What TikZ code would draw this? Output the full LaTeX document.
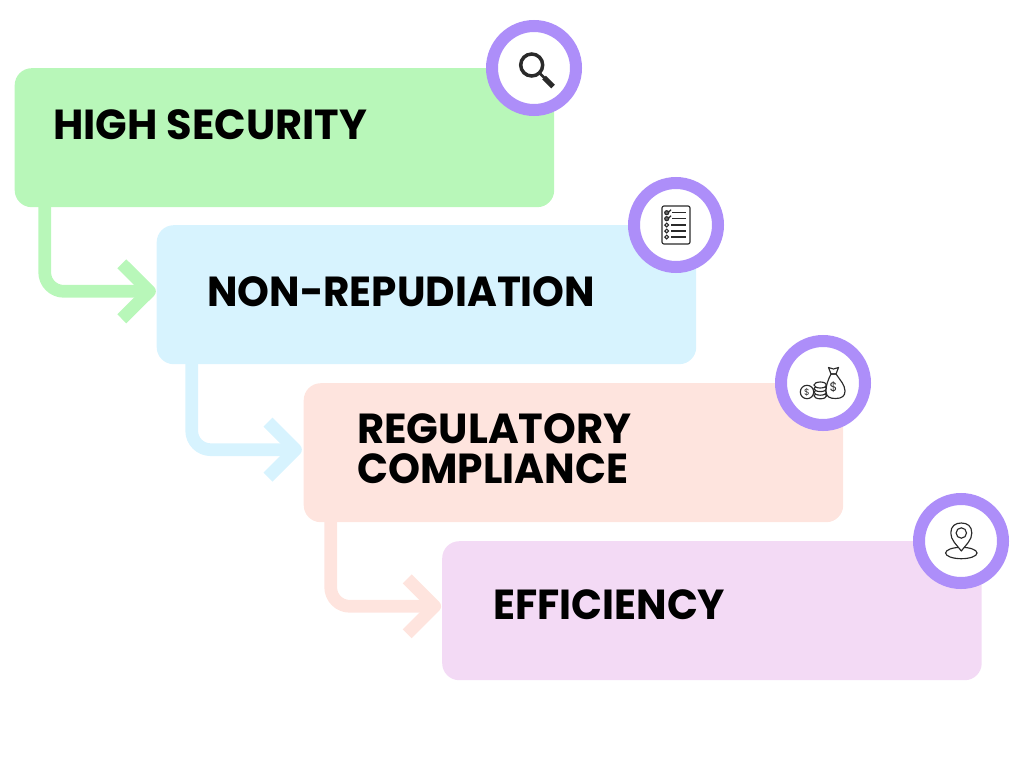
\documentclass[tikz,border=0pt]{standalone}
\usepackage{fontspec}
\usepackage{graphicx}
\setmainfont{Poppins}
\definecolor{cgreen}{HTML}{B8F7B9}
\definecolor{cblue}{HTML}{D7F3FE}
\definecolor{cpink}{HTML}{FEE4DE}
\definecolor{cviolet}{HTML}{F3DAF5}
\definecolor{cring}{HTML}{AD8EF9}
\definecolor{cicon}{HTML}{2A2A2A}
\tikzset{
  stepbox/.style={rectangle,rounded corners=17pt,minimum width=539.5pt,minimum height=139pt,inner sep=0pt,anchor=north west},
  ring/.style={circle,draw=cring,fill=white,line width=12pt,minimum size=84pt,inner sep=0pt},
  label/.style={anchor=base west,inner sep=0pt,font=\bfseries\fontsize{42}{42}\selectfont},
  link/.style={line width=12.7pt,rounded corners=19pt,line join=round},
  head/.style={line width=12.7pt,line join=round},
  ico/.style={draw=cicon,line width=1.15pt},
}
\begin{document}
\begin{tikzpicture}[x=1pt,y=-1pt]
\useasboundingbox (0,0) rectangle (1024,768);
% boxes
\node[stepbox,fill=cgreen] (b1) at (14.5,68) {};
\node[stepbox,fill=cblue] (b2) at (156.5,225) {};
\node[stepbox,fill=cpink] (b3) at (303.5,383) {};
\node[stepbox,fill=cviolet] (b4) at (442,541) {};
% connectors
\coordinate (s1) at (44.7,207);
\coordinate (s2) at (191.7,364);
\coordinate (s3) at (330.7,522);
\coordinate (t1) at (149.5,291.3);
\coordinate (t2) at (295.5,449.7);
\coordinate (t3) at (434.7,606.3);
\draw[link,cgreen] (s1) |- (t1);
\draw[head,cgreen] ([shift={(-27.7,-27.5)}]t1) -- (t1) -- ([shift={(-27.7,27.5)}]t1);
\draw[link,cblue] (s2) |- (t2);
\draw[head,cblue] ([shift={(-27.5,-27.5)}]t2) -- (t2) -- ([shift={(-27.5,27.5)}]t2);
\draw[link,cpink] (s3) |- (t3);
\draw[head,cpink] ([shift={(-27.5,-27.5)}]t3) -- (t3) -- ([shift={(-27.5,27.5)}]t3);
% labels
\node[label] (l1) at (53,139) {\scalebox{.988}[1]{HIGH SECURITY}};
\node[label] (l2) at (207,306) {\scalebox{.965}[1]{NON-REPUDIATION}};
\node[label] (l3a) at (357,443) {\scalebox{.993}[1]{REGULATORY}};
\node[label] (l3b) at (357,483) {\scalebox{.97}[1]{COMPLIANCE}};
\node[label] (l4) at (493,619) {\scalebox{.967}[1]{EFFICIENCY}};
% rings
\node[ring] (r1) at (534,68) {};
\node[ring] (r2) at (676,225) {};
\node[ring] (r3) at (823,383) {};
\node[ring] (r4) at (961,541) {};
% magnifier
\draw[cicon,line width=3.5pt] (531.7,65) circle (11);
\draw[cicon,line width=2.5pt] (539.5,73) -- (545,78.5);
\draw[cicon,line width=5pt] (544,77.5) -- (553,86.5);
% checklist
\draw[ico,rounded corners=2pt] (662,206) rectangle (690,244);
\foreach \yy in {225,231,237}{
  \draw[ico] (666.7,\yy) circle (1.9);
  \draw[ico] (671,\yy) -- (686,\yy);
}
\foreach \yy in {212.7,218.7}{
  \draw[ico,fill=cicon!70] (666.7,\yy) circle (2);
  \draw[ico] (668,\yy) -- (671,\yy-3);
  \draw[ico] (672,\yy) -- (686,\yy);
}
% money
\draw[ico] (807,392) circle (6.7);
\node[inner sep=0pt,text=cicon,font=\fontsize{9}{9}\selectfont] (d1) at (807,392) {\$};
\foreach \yy in {395.8,392.2,388.6,385}{
  \draw[ico,fill=white] (820.3,\yy) ellipse (6.3 and 3);
}
\draw[ico,fill=white,line join=round] (831,374) .. controls (828,380) and (826,385) .. (826,391) .. controls (826,397) and (830,398.5) .. (835.5,398.5) .. controls (842,398.5) and (845,396) .. (845,391) .. controls (845,385) and (840,380) .. (836,374) -- cycle;
\draw[ico,line join=round] (828.5,367.5) -- (831,374) -- (836,374) -- (838.5,367.5) -- (833.5,369) -- cycle;
\node[inner sep=0pt,text=cicon,font=\fontsize{12.5}{12.5}\selectfont] (d2) at (833.5,387) {\$};
% pin
\draw[ico] (961.3,553) ellipse (15.7 and 5.7);
\draw[ico,fill=white,line join=round] (961.3,551) .. controls (956,544) and (950.8,540) .. (950.8,533) .. controls (950.8,526) and (955.3,523) .. (961.3,523) .. controls (967.3,523) and (971.8,526) .. (971.8,533) .. controls (971.8,540) and (966.6,544) .. (961.3,551) -- cycle;
\draw[ico] (961.3,533) circle (5.2);
\end{tikzpicture}
\end{document}
